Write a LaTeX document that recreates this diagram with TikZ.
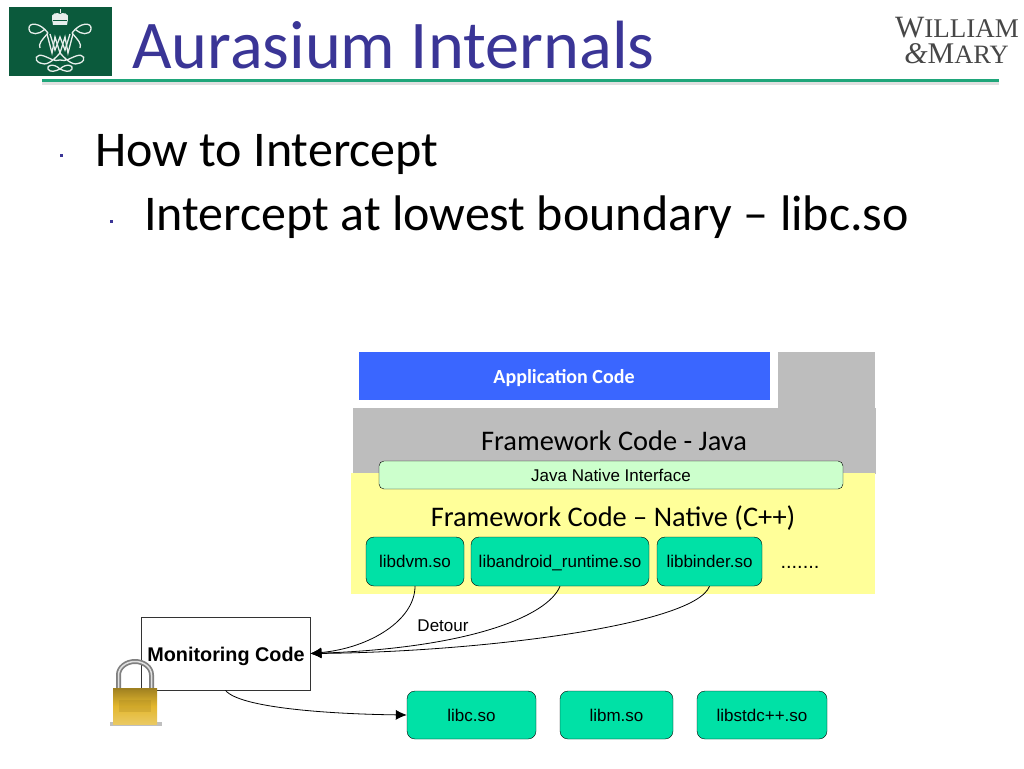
\documentclass[tikz,border=0pt]{standalone}
\usepackage{fontspec}
\setmainfont{Carlito}
\newfontfamily\arialfont{Liberation Sans}
\newfontfamily\logofont{Liberation Serif}
\usetikzlibrary{calc,arrows.meta}
\definecolor{wmgreen}{HTML}{0B5A3C}
\definecolor{rulegreen}{HTML}{1FA67A}
\definecolor{titleblue}{HTML}{3A3596}
\definecolor{appblue}{HTML}{3A66FF}
\definecolor{layergray}{HTML}{BDBDBD}
\definecolor{layeryellow}{HTML}{FFFF99}
\definecolor{jnigreen}{HTML}{CCFFCC}
\definecolor{libgreen}{HTML}{00E1A6}
\definecolor{lockgold}{HTML}{E3B72E}
\tikzset{
	libbox/.style={draw=black, fill=libgreen, rounded corners=8pt, text height=12pt, text depth=-1pt, font=\arialfont\fontsize{17}{18}\selectfont},
	hook/.style={-{Latex[length=11pt,width=10pt]}, line width=0.8pt},
	crest/.style={draw=white!90!wmgreen, line width=1.3pt}
}
\def\boxat(#1)(#2:#3:#4:#5)#6{\node[libbox, minimum width=#4-#2, minimum height=#5-#3, inner sep=0pt] (#1) at ({(#2+#4)/2}, {(#3+#5)/2}) {#6};}

\begin{document}
\begin{tikzpicture}[x=1pt, y=-1pt]
		%%%%% START %%%%%
		\useasboundingbox (0, 0) rectangle (1024, 768);
		
		% header
		\fill[wmgreen] (9, 7) rectangle (112, 76);
		% crown
		\fill[white!90!wmgreen] (60, 9) rectangle (61, 13);
		\fill[white!90!wmgreen] (52, 19) .. controls (50, 13) and (58, 12) .. (60, 14) .. controls (62, 12) and (70, 13) .. (68, 19) -- (67, 25) -- (53, 25) -- cycle;
		\draw[wmgreen, line width=0.6pt] (53, 20) -- (67, 20);
		% cipher
		\draw[crest] (48, 33) .. controls (40, 22) and (28, 22) .. (29, 29) .. controls (30, 36) and (40, 34) .. (44, 30);
		\draw[crest] (72, 33) .. controls (80, 22) and (92, 22) .. (91, 29) .. controls (90, 36) and (80, 34) .. (76, 30);
		\draw[crest] (48, 33) .. controls (42, 40) and (38, 44) .. (40, 48);
		\draw[crest] (72, 33) .. controls (78, 40) and (82, 44) .. (80, 48);
		\draw[crest] (47, 34) -- (52, 53) -- (55, 37) -- (60, 53) -- (65, 37) -- (68, 53) -- (73, 34);
		\draw[crest] (50, 34) -- (55, 50) -- (60, 37) -- (65, 50) -- (70, 34);
		\draw[crest] (60, 53) .. controls (52, 62) and (46, 66) .. (40, 63) .. controls (33, 60) and (36, 53) .. (44, 56) .. controls (50, 58) and (54, 62) .. (60, 60);
		\draw[crest] (60, 53) .. controls (68, 62) and (74, 66) .. (80, 63) .. controls (87, 60) and (84, 53) .. (76, 56) .. controls (70, 58) and (66, 62) .. (60, 60);
		\draw[crest] (60, 69) .. controls (54, 63) and (46, 65) .. (48, 69) .. controls (50, 73) and (56, 71) .. (60, 69) .. controls (64, 71) and (70, 73) .. (72, 69) .. controls (74, 65) and (66, 63) .. (60, 69);
		\node[text=titleblue, font=\fontsize{68.3}{70}\selectfont, anchor=west, inner sep=0pt] (title) at (132, 45) {Aurasium Internals};
		\node[text=black!72, font=\logofont\fontsize{31}{31}\selectfont, anchor=east, inner sep=0pt] (wmtop) at (1019, 28) {W\fontsize{27}{31}\selectfont ILLIAM};
		\node[text=black!72, font=\logofont\fontsize{30}{30}\selectfont, anchor=east, inner sep=0pt] (wmbot) at (1009, 54) {\textit{\&}M\fontsize{26.5}{30}\selectfont ARY};
		\fill[black!12] (42, 82) rectangle (999, 85);
		\fill[rulegreen] (42, 79) rectangle (999, 82);
		
		% bullets
		\fill[titleblue] (60, 154) rectangle (63, 157);
		\fill[titleblue] (110, 220) rectangle (113, 223);
		\node[font=\fontsize{50}{52}\selectfont, anchor=west, inner sep=0pt] (howto) at (95, 154) {How to Intercept};
		\node[font=\fontsize{50}{52}\selectfont, anchor=west, inner sep=0pt] (lowest) at (144, 217) {Intercept at lowest boundary – libc.so};
		
		% layers
		\fill[layergray] (778, 352) rectangle (875, 410);
		\fill[layergray] (353, 408) rectangle (876, 474);
		\fill[layeryellow] (351, 473) rectangle (875, 594);
		\fill[appblue] (359, 352) rectangle (770, 400);
		\node[text=white, font=\bfseries\fontsize{20}{22}\selectfont] (app) at (564, 378) {Application Code};
		\node[font=\fontsize{28.4}{30}\selectfont] (java) at (614, 441) {Framework Code - Java};
		\node[draw=black, fill=jnigreen, rounded corners=5pt, minimum width=464pt, minimum height=28pt, inner sep=0pt, text height=12pt, text depth=-1pt, font=\arialfont\fontsize{17}{18}\selectfont] (jni) at (611, 475) {Java Native Interface};
		\node[font=\fontsize{28.4}{30}\selectfont] (native) at (613, 518) {Framework Code – Native (C++)};
		
		% libraries
		\boxat(libdvm)(366:537:464:586){libdvm.so}
		\boxat(libandroid)(471:537:649:586){libandroid\_runtime.so}
		\boxat(libbinder)(657:537:762:586){libbinder.so}
		\node[font=\arialfont\fontsize{20}{20}\selectfont, text height=12pt, text depth=-1pt] (dots) at (800, 562) {.......};
		\boxat(libc)(407:691:536:739){libc.so}
		\boxat(libm)(560:691:673:739){libm.so}
		\boxat(libstdc)(697:691:827:739){libstdc++.so}
		
		% monitor
		\node[draw=black!80, fill=white, minimum width=169pt, minimum height=73pt, inner sep=0pt, line width=0.8pt] (monitor) at (225.5, 653.5) {};
		\node[font=\arialfont\bfseries\fontsize{19.8}{22}\selectfont, inner sep=0pt] (monitorlabel) at (226, 656) {Monitoring Code};
		\node[font=\arialfont\fontsize{17}{18}\selectfont] (detour) at (443, 626) {Detour};
		
		% connectors
		\draw[hook] (libdvm.south) .. controls (415, 620) and (370, 648) .. (monitor.east);
		\draw[hook] (libandroid.south) .. controls (548, 616) and (470, 648) .. (monitor.east);
		\draw[hook] (libbinder.south) .. controls (695, 625) and (480, 652) .. (monitor.east);
		\draw[hook] (monitor.south) .. controls (240, 708) and (330, 714) .. (libc.west);
		
		% padlock
		\fill[black!25] (110, 722) rectangle (162, 726);
		\draw[black!50, line width=5pt] (118.5, 690) -- (118.5, 675) arc (180:360:16.5 and 13.5) -- (151.5, 690);
		\draw[black!12, line width=1.5pt] (118.5, 690) -- (118.5, 675) arc (180:360:16.5 and 13.5) -- (151.5, 690);
		\shade[top color=lockgold!70!black, bottom color=lockgold!75!white, middle color=lockgold] (113, 688) rectangle (157, 724);
		\fill[lockgold!70!black] (113, 688) rectangle (157, 690);
		\fill[lockgold!70!black, opacity=0.25] (119, 700) rectangle (151, 712);
		%%%%% END %%%%%
	\end{tikzpicture}
\end{document}
